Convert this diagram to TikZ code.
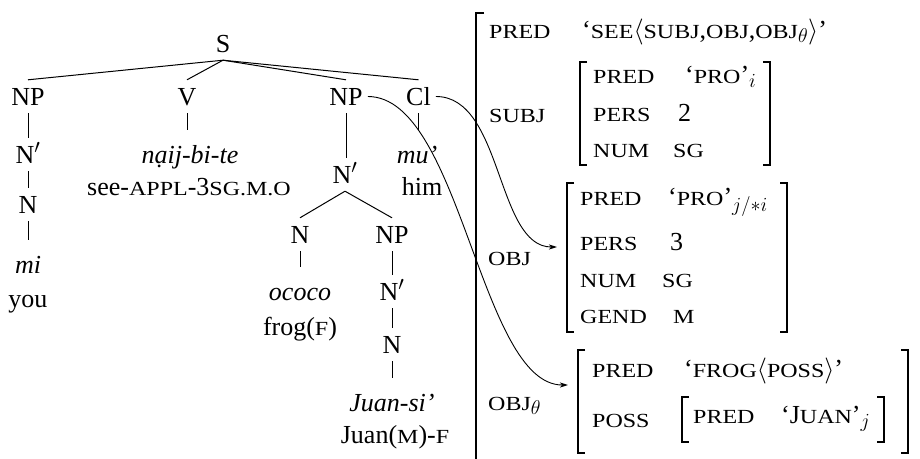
\RequirePackage{fix-cm}
\documentclass[tikz,border=0pt]{standalone}
\usepackage{fontspec}
\setmainfont{Liberation Serif}
\newfontfamily\avmscfont[FakeStretch=1.2]{Liberation Serif}
\usetikzlibrary{arrows.meta}
% main text size and a small-caps imitation for feature names and glosses
\DeclareMathSizes{26}{26}{20}{15}
\newcommand\mainsize{\fontsize{26}{31}\selectfont}
\newcommand\sca[1]{{\avmscfont\fontsize{20}{24}\selectfont #1}}
\tikzset{
  cat/.style={anchor=base, inner xsep=5pt, inner ysep=8pt, text height=17pt, text depth=0pt, font=\mainsize},
  lex/.style={anchor=base, inner xsep=2pt, inner ysep=8pt, text height=25pt, text depth=0pt, font=\mainsize\itshape},
  gloss/.style={anchor=base, inner sep=0pt, font=\mainsize},
  avm/.style={anchor=base west, inner sep=0pt, font=\mainsize},
  branch/.style={line width=1pt},
  brk/.style={line width=1.1pt},
  link/.style={line width=0.9pt, -{Stealth[length=8pt,width=5pt,inset=2pt]}}
}
\begin{document}
\begin{tikzpicture}[x=1pt,y=-1pt]
\useasboundingbox (0,0) rectangle (920,458);

% ---------------- phrase-structure tree ----------------
\node[cat] (S)   at (223,52)  {S};
\node[cat] (NPa) at (28,105)  {NP};
\node[cat] (Nba) at (28,163)  {N$'$};
\node[cat] (Na)  at (28,213)  {N};
\node[lex] (mi)  at (28,273)  {mi};
\node[gloss] (you) at (28,307) {you};

\node[cat] (V)    at (187,105) {V};
\node[lex] (naij) at (190,163) {nạij-bi-te};
\node[gloss] (see) at (189,195) {see-\sca{APPL}-3\sca{SG.M.O}};

\node[cat] (NPb) at (346,105) {NP};
\node[cat] (Nbb) at (345,183) {N$'$};
\node[cat] (Nc)  at (300,243) {N};
\node[lex] (ococo) at (300,300) {ococo};
\node[gloss] (frog) at (300,335) {frog(\sca{F})};
\node[cat] (NPc) at (392,243) {NP};
\node[cat] (Nbc) at (392,300) {N$'$};
\node[cat] (Nd)  at (392,353) {N};
\node[lex] (juan) at (392,411) {Juan-si’};
\node[gloss] (juangl) at (395,443) {Juan(\sca{M})-\sca{F}};

\node[cat] (Cl) at (418.5,105) {Cl};
\node[lex] (mu) at (417,163) {mu’};
\node[gloss] (him) at (422,195) {him};

\foreach \c in {NPa,V,NPb,Cl} \draw[branch] (S.south) -- (\c.north);
\draw[branch] (NPa.south) -- (NPa.south |- Nba.north);
\draw[branch] (Nba.south) -- (Nba.south |- Na.north);
\draw[branch] (Na.south) -- (Na.south |- mi.north);
\draw[branch] (V.south) -- (V.south |- naij.north);
\draw[branch] (NPb.south) -- (NPb.south |- Nbb.north);
\draw[branch] (Nbb.south) -- (Nc.north);
\draw[branch] (Nbb.south) -- (NPc.north);
\draw[branch] (Nc.south) -- (Nc.south |- ococo.north);
\draw[branch] (NPc.south) -- (NPc.south |- Nbc.north);
\draw[branch] (Nbc.south) -- (Nbc.south |- Nd.north);
\draw[branch] (Nd.south) -- (Nd.south |- juan.north);
\draw[branch] (Cl.south) -- (Cl.south |- mu.north);

% ---------------- f-structure ----------------
% outer bracket (runs off the bottom edge)
\draw[brk] (484,13) -- (476,13) -- (476,470);

\node[avm] (f0p) at (489,38) {\sca{PRED}};
\node[avm] (f0v) at (582,38) {‘\sca{SEE}$\langle$\sca{SUBJ},\sca{OBJ},\sca{OBJ}$_\theta\rangle$’};

% SUBJ
\node[avm] (subj) at (489,122) {\sca{SUBJ}};
\draw[brk] (587,62) -- (580,62) -- (580,165) -- (587,165);
\draw[brk] (763,62) -- (770,62) -- (770,165) -- (763,165);
\node[avm] (s1a) at (593,83)  {\sca{PRED}};
\node[avm] (s1b) at (685,83)  {‘\sca{PRO}’$_i$};
\node[avm] (s2a) at (593,121) {\sca{PERS}};
\node[avm] (s2b) at (678,121) {2};
\node[avm] (s3a) at (593,157) {\sca{NUM}};
\node[avm] (s3b) at (673,157) {\sca{SG}};

% OBJ
\node[avm] (obj) at (488,265) {\sca{OBJ}};
\draw[brk] (574,183) -- (567,183) -- (567,332) -- (574,332);
\draw[brk] (780,183) -- (787,183) -- (787,332) -- (780,332);
\node[avm] (o1a) at (580,205) {\sca{PRED}};
\node[avm] (o1b) at (668,205) {‘\sca{PRO}’$_{j/*i}$};
\node[avm] (o2a) at (580,250) {\sca{PERS}};
\node[avm] (o2b) at (670,250) {3};
\node[avm] (o3a) at (580,287) {\sca{NUM}};
\node[avm] (o3b) at (662,287) {\sca{SG}};
\node[avm] (o4a) at (580,323) {\sca{GEND}};
\node[avm] (o4b) at (673,323) {\sca{M}};

% OBJ-theta
\node[avm] (objt) at (488,410) {\sca{OBJ}$_\theta$};
\draw[brk] (585,350) -- (578,350) -- (578,453) -- (585,453);
\draw[brk] (901,350) -- (908,350) -- (908,453) -- (901,453);
\node[avm] (t1a) at (592,377) {\sca{PRED}};
\node[avm] (t1b) at (684,377) {‘\sca{FROG}$\langle$\sca{POSS}$\rangle$’};
\node[avm] (t2a) at (592,427) {\sca{POSS}};
\draw[brk] (689,397) -- (682,397) -- (682,442) -- (689,442);
\draw[brk] (877,397) -- (884,397) -- (884,442) -- (877,442);
\node[avm] (p1a) at (693,423) {\sca{PRED}};
\node[avm] (p1b) at (781,423) {‘J\sca{UAN}’$_j$};

% correspondence arrows
\coordinate (objin)  at (557,247);
\coordinate (objtin) at (568,385);
\draw[link] (Cl.east)  .. controls +(67,0) and +(-61,0) .. (objin);
\draw[link] (NPb.east) .. controls +(93,0) and +(-88,0) .. (objtin);
\end{tikzpicture}
\end{document}
